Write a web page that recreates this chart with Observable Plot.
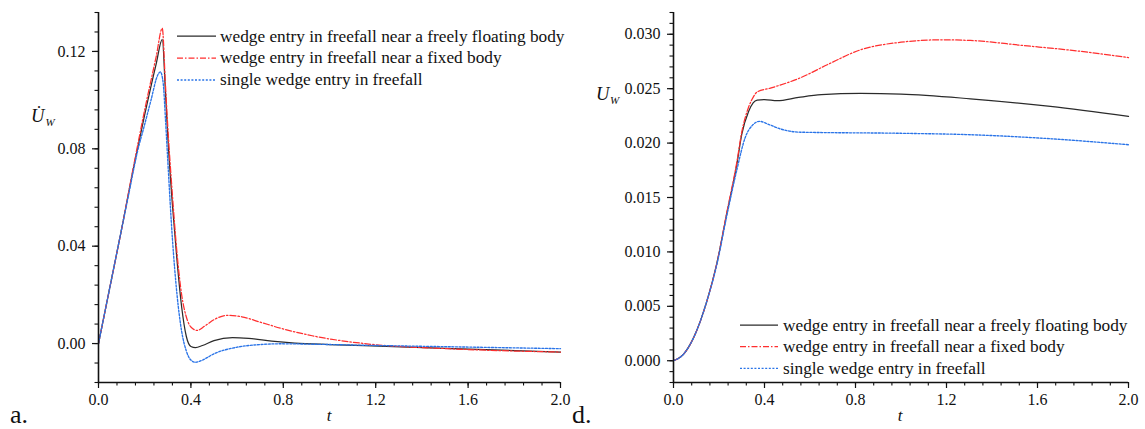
<!DOCTYPE html>
<html><head><meta charset="utf-8">
<script src="https://cdn.jsdelivr.net/npm/d3@7"></script>
<script src="https://cdn.jsdelivr.net/npm/@observablehq/plot@0.6"></script>
<style>
body{margin:0;background:#fff;}
#wrap{position:relative;width:1145px;height:429px;overflow:hidden;color:#111;}
.p{position:absolute;top:0;}
#wrap svg{overflow:visible;}
</style></head><body><div id="wrap"></div>
<script>
const FONT = "'Liberation Serif', 'Tinos', 'Times New Roman', Times, serif";
// ---- data (t, value) ----
const seriesNames = ["wedge entry in freefall near a freely floating body","wedge entry in freefall near a fixed body","single wedge entry in freefall"];
const accFloating = [[0,0],[0.05,0.0235],[0.1,0.047],[0.15,0.0715],[0.2,0.094],[0.25,0.115],[0.276,0.125],[0.29,0.103],[0.3,0.085],[0.32,0.057],[0.34,0.034],[0.36,0.015],[0.38,0.003],[0.40,-0.0012],[0.42,-0.0017],[0.45,-0.0008],[0.5,0.0012],[0.58,0.0024],[0.65,0.0021],[0.75,0.0010],[0.85,0.0002],[1.0,-0.0004],[1.15,-0.0009],[1.5,-0.002],[2.0,-0.0035]];
const accFixed = [[0,0],[0.05,0.0235],[0.1,0.047],[0.15,0.072],[0.2,0.096],[0.25,0.118],[0.276,0.1295],[0.29,0.106],[0.3,0.089],[0.32,0.061],[0.34,0.037],[0.36,0.02],[0.38,0.011],[0.40,0.0068],[0.427,0.0054],[0.46,0.0072],[0.5,0.0098],[0.557,0.0116],[0.62,0.011],[0.7,0.0088],[0.788,0.0063],[0.925,0.0032],[1.15,0.0],[1.51,-0.0021],[2.0,-0.0035]];
const accSingle = [[0,0],[0.05,0.0235],[0.1,0.047],[0.13,0.061],[0.169,0.079],[0.197,0.089],[0.227,0.0999],[0.256,0.1102],[0.268,0.1116],[0.28,0.107],[0.29,0.092],[0.3,0.075],[0.32,0.043],[0.34,0.02],[0.36,0.005],[0.38,-0.003],[0.40,-0.0068],[0.42,-0.0077],[0.45,-0.0068],[0.5,-0.0042],[0.6,-0.0015],[0.7,-0.0004],[0.788,-0.0001],[1.0,-0.0004],[1.15,-0.0007],[1.51,-0.0013],[2.0,-0.0021]];

const velFloating = [[0,0],[0.044,0.0006],[0.088,0.0021],[0.147,0.0055],[0.19,0.0089],[0.234,0.0135],[0.278,0.018],[0.30,0.0208],[0.33,0.0229],[0.35,0.0237],[0.368,0.02395],[0.4,0.024],[0.456,0.0239],[0.55,0.0242],[0.65,0.02445],[0.822,0.02456],[1.0,0.0245],[1.305,0.02407],[1.657,0.02337],[2.0,0.02245]];
const velFixed = [[0,0],[0.044,0.0006],[0.088,0.0021],[0.147,0.0055],[0.19,0.0089],[0.234,0.0136],[0.278,0.0182],[0.30,0.021],[0.33,0.0233],[0.35,0.0242],[0.368,0.0247],[0.426,0.02505],[0.558,0.026],[0.676,0.0272],[0.822,0.02857],[1.0,0.02927],[1.174,0.02949],[1.305,0.02943],[1.54,0.02896],[1.775,0.02847],[2.0,0.02786]];
const velSingle = [[0,0],[0.044,0.0006],[0.088,0.0021],[0.147,0.0055],[0.19,0.0088],[0.234,0.0133],[0.278,0.0175],[0.315,0.0205],[0.35,0.0217],[0.378,0.0220],[0.42,0.0217],[0.47,0.0213],[0.558,0.0210],[1.0,0.0209],[1.305,0.02077],[1.657,0.0204],[2.0,0.01985]];

const xMajor = [0,0.4,0.8,1.2,1.6,2.0];
const xMinor = d3.range(0,2.0001,0.08);
const accMajor = [0,0.04,0.08,0.12];
const accMinor = d3.range(-16,137,8).map(d=>d/1000);
const velMajor = [0,0.005,0.01,0.015,0.02,0.025,0.03];
const velMinor = d3.range(-2,33,1).map(d=>d/1000);

const styles = [
  {stroke:"#2b2b2b", dash:null, w:1.25},
  {stroke:"#ff2f2f", dash:"6,2,1.5,2", w:1.25},
  {stroke:"#2a74e8", dash:"2,1.6", w:1.35}
];

function panel(o){
  const lines = o.series.map((s,i)=>Plot.line(s,{x:d=>d[0],y:d=>d[1],curve:"monotone-x",stroke:styles[i].stroke,strokeWidth:styles[i].w,strokeDasharray:styles[i].dash}));
  return Plot.plot({
    width:o.width,height:429,marginLeft:o.ml,marginRight:o.mr,marginTop:12,marginBottom:47,
    x:{domain:[0,2],label:null},
    y:{domain:o.yDomain,label:null},
    style:{fontFamily:FONT,fontSize:"16px",color:"#111",background:"transparent",overflow:"visible"},
    marks:[
      Plot.axisX({ticks:xMinor,tickSize:3.5,tickFormat:()=>"",label:null,strokeWidth:1.1}),
      Plot.axisX({ticks:xMajor,tickSize:6,tickPadding:5,tickFormat:d3.format(".1f"),label:null,strokeWidth:1.2}),
      Plot.axisY({ticks:o.yMinor,tickSize:3.5,tickFormat:()=>"",label:null,strokeWidth:1.1}),
      Plot.axisY({ticks:o.yMajor,tickSize:6,tickPadding:7,tickFormat:d3.format(o.fmt),label:null,strokeWidth:1.2}),
      ...lines,
      Plot.ruleX([0],{stroke:"#111",strokeWidth:1.6}),
      Plot.ruleY([o.yDomain[0]],{stroke:"#111",strokeWidth:1.6})
    ]
  });
}

const wrap = document.getElementById("wrap");
const p1 = panel({series:[accFloating,accFixed,accSingle],yDomain:[-0.016,0.136],yMajor:accMajor,yMinor:accMinor,fmt:".2f",width:580,ml:98,mr:20});
p1.classList.add("p"); p1.style.left="0px";
const p2 = panel({series:[velFloating,velFixed,velSingle],yDomain:[-0.002,0.032],yMajor:velMajor,yMinor:velMinor,fmt:".3f",width:565,ml:93,mr:17});
p2.classList.add("p"); p2.style.left="580px";
wrap.appendChild(p1); wrap.appendChild(p2);

// overlay: legends and labels
const ns="http://www.w3.org/2000/svg";
const ov=document.createElementNS(ns,"svg");
ov.setAttribute("width",1145);ov.setAttribute("height",429);
ov.setAttribute("class","p");ov.style.left="0px";
ov.style.fontFamily=FONT;
ov.setAttribute("fill","#111");
wrap.appendChild(ov);
function txt(x,y,s,size,extra){
  const t=document.createElementNS(ns,"text");
  t.setAttribute("x",x);t.setAttribute("y",y);t.setAttribute("font-size",size);
  if(extra) for(const k in extra) t.setAttribute(k,extra[k]);
  t.textContent=s; ov.appendChild(t); return t;
}
function seg(x1,x2,y,st){
  const l=document.createElementNS(ns,"line");
  l.setAttribute("x1",x1);l.setAttribute("x2",x2);l.setAttribute("y1",y);l.setAttribute("y2",y);
  l.setAttribute("stroke",st.stroke);l.setAttribute("stroke-width",st.w);
  if(st.dash) l.setAttribute("stroke-dasharray",st.dash);
  ov.appendChild(l);
}
function legend(x0,x1,tx,ys,bs){
  seriesNames.forEach((n,i)=>{ seg(x0,x1,ys[i],styles[i]); txt(tx,bs[i],n,17.3); });
}
legend(177,216,220,[36,58,80],[41.5,63,84.5]);
legend(740,778,783,[325,346.7,368.3],[330.5,352,373.5]);

txt(10,423,"a.",26);
txt(572,423,"d.",26);
txt(329,421,"t",17,{"font-style":"italic","text-anchor":"middle"});
txt(900,421,"t",17,{"font-style":"italic","text-anchor":"middle"});
// y labels
const u1 = txt(31,122,"U\u0307",18.5,{"font-style":"italic"});
txt(45.5,126,"W",11,{"font-style":"italic"});
txt(596,100,"U",18.5,{"font-style":"italic"});
txt(610,103.5,"W",11,{"font-style":"italic"});
</script></body></html>
